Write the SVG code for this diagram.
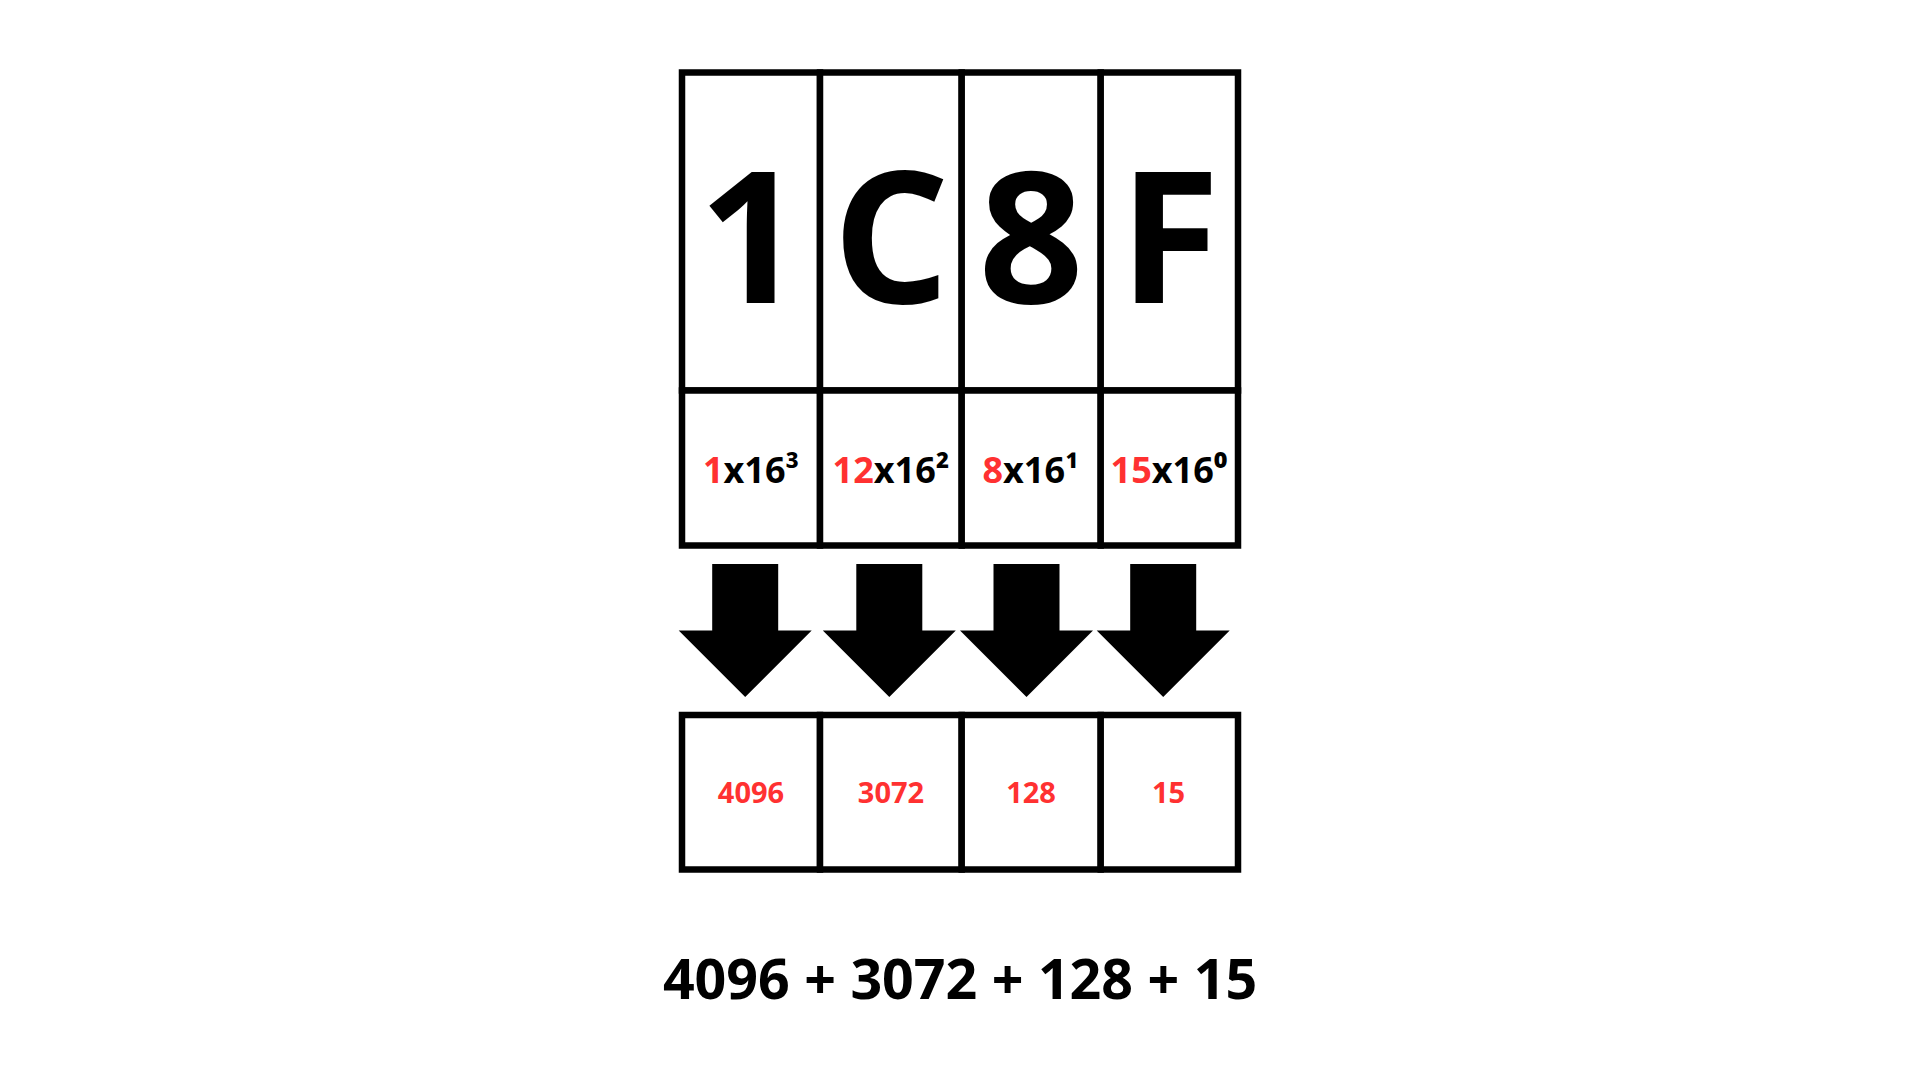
<svg xmlns="http://www.w3.org/2000/svg" width="1920" height="1080" viewBox="0 0 1920 1080">
<style>
  .cell { fill: #ffffff; stroke: #000000; stroke-width: 6.5; }
  .big { font-family: "Open Sans", "Liberation Sans", sans-serif; font-weight: 700; font-size: 184px; fill: #000000; text-anchor: middle; }
  .mid { font-family: "Open Sans", "Liberation Sans", sans-serif; font-weight: 700; font-size: 36px; fill: #000000; text-anchor: middle; }
  .val { font-family: "Open Sans", "Liberation Sans", sans-serif; font-weight: 700; font-size: 29px; fill: #ff3131; text-anchor: middle; }
  .sum { font-family: "Open Sans", "Liberation Sans", sans-serif; font-weight: 700; font-size: 55.5px; fill: #000000; text-anchor: middle; }
  .red { fill: #ff3131; }
  .arrow { fill: #000000; }
</style>
<defs>
  <path id="downArrow" d="M -33,564 H 33 V 630.5 H 66.5 L 0,697 L -66.5,630.5 H -33 Z"/>
</defs>
<rect width="1920" height="1080" fill="#ffffff"/>

<g id="digit-1">
  <rect class="cell" x="682" y="72.5" width="138" height="318"/>
  <text class="big" x="751" y="303">1</text>
  <rect class="cell" x="682" y="390.5" width="138" height="155"/>
  <text class="mid" x="751" y="483"><tspan class="red">1</tspan>x16³</text>
</g>
<g id="digit-C">
  <rect class="cell" x="820" y="72.5" width="141.7" height="318"/>
  <text class="big" x="891" y="303">C</text>
  <rect class="cell" x="820" y="390.5" width="141.7" height="155"/>
  <text class="mid" x="891" y="483"><tspan class="red">12</tspan>x16²</text>
</g>
<g id="digit-8">
  <rect class="cell" x="961.7" y="72.5" width="139" height="318"/>
  <text class="big" x="1031.2" y="303">8</text>
  <rect class="cell" x="961.7" y="390.5" width="139" height="155"/>
  <text class="mid" x="1030.5" y="483"><tspan class="red">8</tspan>x16¹</text>
</g>
<g id="digit-F">
  <rect class="cell" x="1100.7" y="72.5" width="137.3" height="318"/>
  <text class="big" x="1169.5" y="303">F</text>
  <rect class="cell" x="1100.7" y="390.5" width="137.3" height="155"/>
  <text class="mid" x="1169" y="483"><tspan class="red">15</tspan>x16⁰</text>
</g>

<g id="connectors">
  <use href="#downArrow" class="arrow" x="745.2" y="0"/>
  <use href="#downArrow" class="arrow" x="889.3" y="0"/>
  <use href="#downArrow" class="arrow" x="1026.5" y="0"/>
  <use href="#downArrow" class="arrow" x="1163.2" y="0"/>
</g>

<g id="value-4096">
  <rect class="cell" x="682" y="715" width="138" height="154.5"/>
  <text class="val" x="751" y="803">4096</text>
</g>
<g id="value-3072">
  <rect class="cell" x="820" y="715" width="141.7" height="154.5"/>
  <text class="val" x="891" y="803">3072</text>
</g>
<g id="value-128">
  <rect class="cell" x="961.7" y="715" width="139" height="154.5"/>
  <text class="val" x="1031" y="803">128</text>
</g>
<g id="value-15">
  <rect class="cell" x="1100.7" y="715" width="137.3" height="154.5"/>
  <text class="val" x="1168.6" y="803">15</text>
</g>

<g id="sum">
  <text class="sum" x="960" y="999">4096 + 3072 + 128 + 15</text>
</g>
</svg>
